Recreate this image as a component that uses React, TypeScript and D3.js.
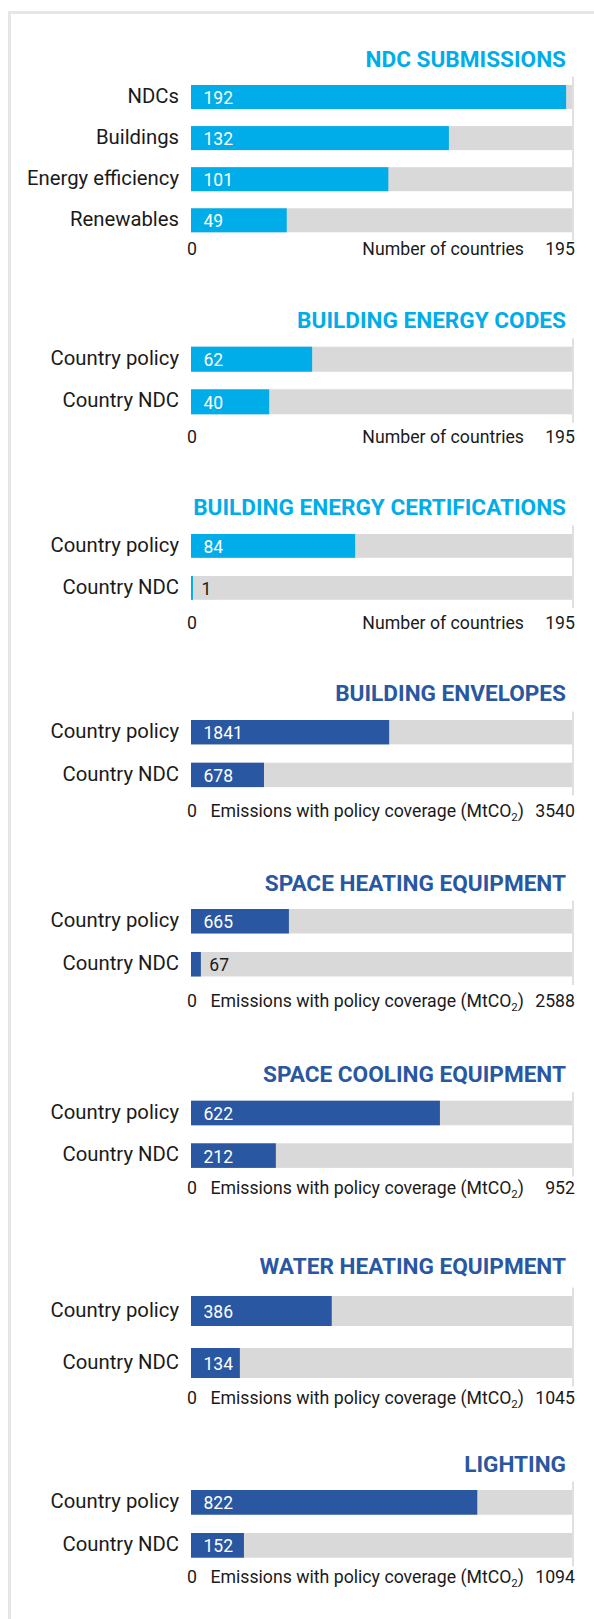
import React from "react";
import * as d3 from "d3";

// ---------- data ----------
const titles = [
  "NDC SUBMISSIONS",
  "BUILDING ENERGY CODES",
  "BUILDING ENERGY CERTIFICATIONS",
  "BUILDING ENVELOPES",
  "SPACE HEATING EQUIPMENT",
  "SPACE COOLING EQUIPMENT",
  "WATER HEATING EQUIPMENT",
  "LIGHTING",
];
const ndcCategories = ["NDCs", "Buildings", "Energy efficiency", "Renewables"];
const policyCategories = ["Country policy", "Country NDC"];

const ndcValues = [192, 132, 101, 49];
const codesValues = [62, 40];
const certificationValues = [84, 1];
const envelopeValues = [1841, 678];
const heatingValues = [665, 67];
const coolingValues = [622, 212];
const waterValues = [386, 134];
const lightingValues = [822, 152];

const maxValues = [195, 195, 195, 3540, 2588, 952, 1045, 1094];
const axisCountries = "Number of countries";
const axisEmissions = "Emissions with policy coverage (MtCO";

// ---------- layout / style ----------
const LIGHT = "#00ADE9";
const DARK = "#2957A2";
const GRAY = "#D9D9D9";
const X0 = 191;
const X1 = 572;

const layout = [
  { titleY: 66.7, barTop: 85, step: 41.1, barH: 24, axisY: 255 },
  { titleY: 328.3, barTop: 346.7, step: 42.6, barH: 25, axisY: 443.3 },
  { titleY: 515, barTop: 534, step: 42, barH: 23.8, axisY: 629.3 },
  { titleY: 700.7, barTop: 720, step: 42.7, barH: 24.4, axisY: 816.7 },
  { titleY: 890.7, barTop: 909, step: 43, barH: 24.5, axisY: 1006.7 },
  { titleY: 1082.3, barTop: 1100.7, step: 42.6, barH: 24.6, axisY: 1194 },
  { titleY: 1274, barTop: 1296, step: 52, barH: 30, axisY: 1404 },
  { titleY: 1471.7, barTop: 1490, step: 43, barH: 24.7, axisY: 1583.3 },
];

const sections = [
  { cats: ndcCategories, vals: ndcValues, color: LIGHT, emissions: false },
  { cats: policyCategories, vals: codesValues, color: LIGHT, emissions: false },
  { cats: policyCategories, vals: certificationValues, color: LIGHT, emissions: false },
  { cats: policyCategories, vals: envelopeValues, color: DARK, emissions: true },
  { cats: policyCategories, vals: heatingValues, color: DARK, emissions: true },
  { cats: policyCategories, vals: coolingValues, color: DARK, emissions: true },
  { cats: policyCategories, vals: waterValues, color: DARK, emissions: true },
  { cats: policyCategories, vals: lightingValues, color: DARK, emissions: true },
];

const FONT = "Roboto, 'Noto Sans', sans-serif";

function Section({ idx }: { idx: number }) {
  const s = sections[idx];
  const L = layout[idx];
  const n = s.cats.length;
  const x = d3.scaleLinear().domain([0, maxValues[idx]]).range([X0, X1]);
  const y = d3
    .scaleBand<string>()
    .domain(s.cats)
    .range([L.barTop, L.barTop + (n - 1) * L.step + L.barH])
    .paddingInner(1 - L.barH / L.step)
    .paddingOuter(0);
  const bw = y.bandwidth();
  const lastBottom = (y(s.cats[n - 1]) as number) + bw;
  return (
    <g>
      <text
        x={566}
        y={L.titleY}
        textAnchor="end"
        fontFamily={FONT}
        fontWeight={700}
        fontSize={22.6}
        fill={s.color}
      >
        {titles[idx]}
      </text>
      <line
        x1={X1 + 1}
        x2={X1 + 1}
        y1={L.barTop - 8.5}
        y2={lastBottom + 8.5}
        stroke="#D6D6D6"
        strokeWidth={1.5}
      />
      {s.cats.map((c, i) => {
        const yy = y(c) as number;
        const v = s.vals[i];
        const w = x(v) - X0;
        const inside = w > 40;
        const cy = yy + bw / 2;
        return (
          <g key={c}>
            <rect x={X0} y={yy} width={X1 - X0} height={bw} fill={GRAY} />
            <rect x={X0} y={yy} width={w} height={bw} fill={s.color} />
            <text
              x={179}
              y={cy + 5.6}
              textAnchor="end"
              fontFamily={FONT}
              fontSize={20.3}
              fill="#1a1a1a"
            >
              {c}
            </text>
            <text
              x={inside ? X0 + 12.5 : x(v) + 8.5}
              y={cy + 7}
              fontFamily={FONT}
              fontSize={17.5}
              fill={inside ? "#ffffff" : "#1a1a1a"}
            >
              {v}
            </text>
          </g>
        );
      })}
      <text
        x={X0 + 1}
        y={L.axisY}
        textAnchor="middle"
        fontFamily={FONT}
        fontSize={17.7}
        fill="#1a1a1a"
      >
        0
      </text>
      <text
        x={524}
        y={L.axisY}
        textAnchor="end"
        fontFamily={FONT}
        fontSize={17.7}
        fill="#1a1a1a"
      >
        {s.emissions ? (
          <>
            {axisEmissions}
            <tspan fontSize={11.5} dy={4}>2</tspan>
            <tspan dy={-4}>)</tspan>
          </>
        ) : (
          axisCountries
        )}
      </text>
      <text
        x={575}
        y={L.axisY}
        textAnchor="end"
        fontFamily={FONT}
        fontSize={17.7}
        fill="#1a1a1a"
      >
        {maxValues[idx]}
      </text>
    </g>
  );
}

export default function App() {
  return (
    <svg
      width={594}
      height={1619}
      style={{ position: "absolute", left: 0, top: 0, display: "block" }}
    >
      <rect x={0} y={0} width={594} height={1619} fill="#ffffff" />
      <rect
        x={9.5}
        y={12.5}
        width={700}
        height={1800}
        fill="none"
        stroke="#E6E6E6"
        strokeWidth={3}
      />
      {sections.map((_, i) => (
        <Section key={i} idx={i} />
      ))}
    </svg>
  );
}
